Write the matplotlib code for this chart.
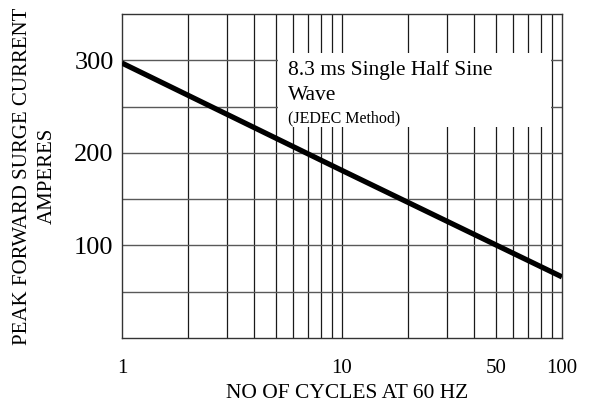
import matplotlib
matplotlib.use('Agg')
import matplotlib.pyplot as plt
from matplotlib.patches import Rectangle

# surge current vs number of cycles
cycles = [1, 10, 100]
current = [297, 181, 66]

x_ticks = [1, 10, 50, 100]
x_ticklabels = ['1', '10', '50', '100']
y_ticks = [100, 200, 300]
y_grid = [50, 100, 150, 200, 250, 300]
x_grid = [2, 3, 4, 5, 6, 7, 8, 9, 10, 20, 30, 40, 50, 60, 70, 80, 90]

plt.rcParams['font.family'] = ['Liberation Serif', 'DejaVu Serif']

fig = plt.figure(figsize=(5.95, 4.07), dpi=100)
ax = fig.add_axes([122 / 595, 1 - 338 / 407, 440 / 595, 324 / 407])

ax.set_xscale('log')
ax.set_xlim(1, 100)
ax.set_ylim(0, 350)

for g in x_grid:
    ax.axvline(g, color='0.1', lw=0.9, zorder=1)
for g in y_grid:
    ax.axhline(g, color='0.35', lw=1.0, zorder=1)

# white box behind the annotation
bx0 = (278 - 122) / 440
bx1 = (551 - 122) / 440
by0 = (338 - 127) / 324
by1 = (338 - 53) / 324
ax.add_patch(Rectangle((bx0, by0), bx1 - bx0, by1 - by0, transform=ax.transAxes,
                       facecolor='white', edgecolor='none', zorder=2))

ax.plot(cycles, current, color='black', lw=3.8, zorder=3, solid_capstyle='butt')

tx = (288 - 122) / 440
ax.text(tx, (338 - 70) / 324, '8.3 ms Single Half Sine',
        transform=ax.transAxes, fontsize=15.5, va='center', ha='left', zorder=4)
ax.text(tx, (338 - 96) / 324, 'Wave',
        transform=ax.transAxes, fontsize=15.5, va='center', ha='left', zorder=4)
ax.text(tx, (338 - 118) / 324, '(JEDEC Method)',
        transform=ax.transAxes, fontsize=11.5, va='center', ha='left', zorder=4)

ax.set_xticks(x_ticks)
ax.set_xticklabels(x_ticklabels)
ax.xaxis.set_minor_locator(matplotlib.ticker.NullLocator())
ax.set_yticks(y_ticks)
ax.tick_params(axis='x', length=0, pad=15, labelsize=15)
ax.tick_params(axis='y', length=0, pad=6, labelsize=19)

for s in ax.spines.values():
    s.set_color('0.2')
    s.set_linewidth(1.0)

fig.text(347 / 595, 1 - 393 / 407, 'NO OF CYCLES AT 60 HZ', ha='center', va='center',
         fontsize=15.5)
fig.text(35 / 595, 1 - 176 / 407, 'PEAK FORWARD SURGE CURRENT\nAMPERES', ha='center',
         va='center', rotation=90, fontsize=15, multialignment='center', linespacing=1.45)

fig.savefig('out.png', dpi=100)
